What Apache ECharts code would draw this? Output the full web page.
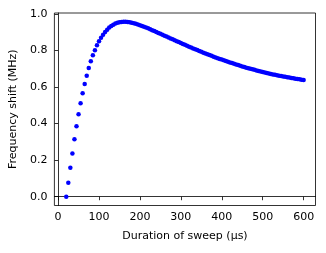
<!DOCTYPE html>
<html>
<head>
<meta charset="utf-8">
<script src="https://cdn.jsdelivr.net/npm/echarts@6/dist/echarts.min.js"></script>
<style>html,body{margin:0;padding:0;background:#fff;}#c{width:326px;height:253px;}</style>
</head>
<body>
<div id="c"></div>
<script>
const durations = [
  20,25,30,35,40,45,50,55,60,65,
  70,75,80,85,90,95,100,105,110,115,
  120,125,130,135,140,145,150,155,160,165,
  170,175,180,185,190,195,200,205,210,215,
  220,225,230,235,240,245,250,255,260,265,
  270,275,280,285,290,295,300,305,310,315,
  320,325,330,335,340,345,350,355,360,365,
  370,375,380,385,390,395,400,405,410,415,
  420,425,430,435,440,445,450,455,460,465,
  470,475,480,485,490,495,500,505,510,515,
  520,525,530,535,540,545,550,555,560,565,
  570,575,580,585,590,595,600
];
const shifts = [
  0.000,0.077,0.159,0.237,0.314,0.385,0.451,0.511,0.566,0.617,
  0.662,0.704,0.741,0.774,0.801,0.828,0.850,0.869,0.886,0.901,
  0.914,0.925,0.934,0.941,0.947,0.951,0.954,0.956,0.957,0.957,
  0.956,0.954,0.952,0.949,0.946,0.942,0.938,0.934,0.930,0.926,
  0.921,0.916,0.911,0.906,0.901,0.896,0.891,0.886,0.881,0.876,
  0.871,0.866,0.861,0.856,0.851,0.846,0.841,0.836,0.831,0.826,
  0.821,0.816,0.811,0.807,0.802,0.797,0.793,0.788,0.784,0.779,
  0.775,0.771,0.766,0.762,0.758,0.754,0.750,0.746,0.742,0.738,
  0.734,0.731,0.727,0.723,0.720,0.716,0.713,0.710,0.706,0.703,
  0.700,0.697,0.694,0.691,0.688,0.685,0.682,0.680,0.677,0.674,
  0.672,0.669,0.667,0.665,0.662,0.660,0.658,0.656,0.654,0.652,
  0.650,0.648,0.646,0.644,0.642,0.640,0.638
];
const xTicks = [0,100,200,300,400,500,600];
const yTicks = [0,0.2,0.4,0.6,0.8,1.0];
const xLabel = 'Duration of sweep (μs)';
const yLabel = 'Frequency shift (MHz)';

const font = 'DejaVu Sans';
const chart = echarts.init(document.getElementById('c'), null, {renderer: 'canvas'});
chart.setOption({
  animation: false,
  backgroundColor: '#fff',
  grid: {left: 53.5, top: 13, right: 10.5, bottom: 47.5, show: true, borderColor: '#000', borderWidth: 0.8, backgroundColor: 'transparent'},
  xAxis: {
    type: 'value', min: -9, max: 629,
    axisLine: {show: true, lineStyle: {color: '#000', width: 0.8}},
    axisTick: {show: true, customValues: xTicks, length: 3.5, lineStyle: {color: '#000', width: 0.8}},
    axisLabel: {customValues: xTicks, color: '#000', fontFamily: font, fontSize: 11, margin: 6},
    splitLine: {show: false},
    name: xLabel, nameLocation: 'middle', nameGap: 25,
    nameTextStyle: {color: '#000', fontFamily: font, fontSize: 11}
  },
  yAxis: {
    type: 'value', min: -0.048, max: 1.005,
    axisLine: {show: true, lineStyle: {color: '#000', width: 0.8}},
    axisTick: {show: true, customValues: yTicks, length: 3.5, lineStyle: {color: '#000', width: 0.8}},
    axisLabel: {customValues: yTicks, color: '#000', fontFamily: font, fontSize: 11, margin: 7,
      formatter: v => v.toFixed(1)},
    splitLine: {show: false},
    name: yLabel, nameLocation: 'middle', nameGap: 30, nameRotate: 90,
    nameTextStyle: {color: '#000', fontFamily: font, fontSize: 11}
  },
  series: [{
    type: 'scatter',
    data: durations.map((d, i) => [d, shifts[i]]),
    symbol: 'circle', symbolSize: 4.5,
    itemStyle: {color: '#0000ff', opacity: 1}
  }]
});
</script>
</body>
</html>
